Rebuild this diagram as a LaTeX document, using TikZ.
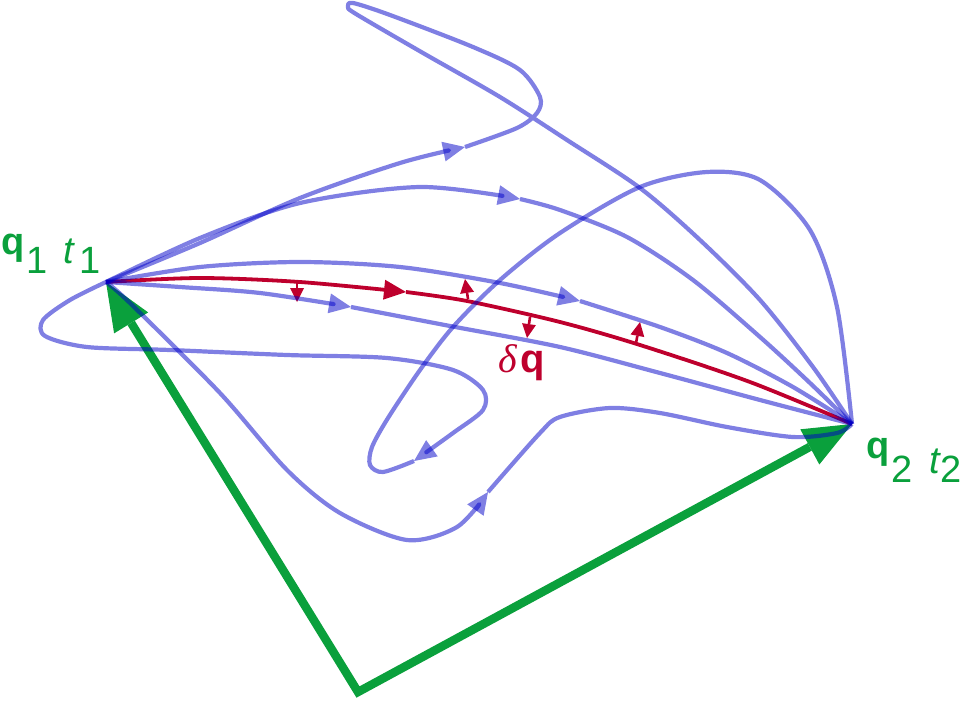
\documentclass[tikz,border=0pt]{standalone}
\usepackage{fontspec}
\setmainfont{Liberation Sans}
\newfontfamily\lserif{Liberation Serif}
\usetikzlibrary{arrows.meta}
\definecolor{pathblue}{RGB}{0,0,200}
\definecolor{varred}{RGB}{190,0,45}
\definecolor{endgreen}{RGB}{10,160,60}
\tikzset{
 traj/.style={draw=pathblue, opacity=0.5, line width=4.2pt, line join=round},
 trajarr/.style={traj, -{Triangle[length=22pt,width=20pt,line width=0pt]}},
 realpath/.style={draw=varred, line width=3.8pt, line join=round},
 realarr/.style={realpath, -{Triangle[length=22pt,width=20pt,line width=0pt]}},
 vararr/.style={draw=varred, line width=2.6pt, -{Triangle[length=14pt,width=14pt,line width=0pt]}},
 posvec/.style={draw=endgreen, line width=8.5pt, {Triangle[length=48pt,width=40pt,line width=0pt]}-{Triangle[length=48pt,width=40pt,line width=0pt]}},
 lbl/.style={inner sep=0pt, anchor=base west, text=endgreen, font=\fontsize{38}{42}\selectfont},
 rlbl/.style={inner sep=0pt, anchor=base west, text=varred, font=\fontsize{40}{44}\selectfont},
}
\begin{document}
\begin{tikzpicture}[x=1pt,y=-1pt]
\useasboundingbox (0,0) rectangle (960,701);
\coordinate (A) at (106,282);
\coordinate (B) at (852,424);
\coordinate (C) at (358,692);
% arrow tips along paths
\coordinate (t1) at (465,147);
\coordinate (t2) at (520,199);
\coordinate (t3) at (580,301);
\coordinate (tr) at (406,292);
\coordinate (t4) at (351,307);
\coordinate (t5) at (414,461);
\coordinate (t6) at (488,492);
% variation arrows
\coordinate (v1s) at (297,283); \coordinate (v1e) at (297,302);
\coordinate (v2s) at (468,299); \coordinate (v2e) at (465,279);
\coordinate (v3s) at (530,317); \coordinate (v3e) at (527,338);
\coordinate (v4s) at (636,343); \coordinate (v4e) at (640,322);

% position vectors
\draw[posvec] (A) -- (C) -- (B);

% actual path
\draw[realarr] plot[smooth] coordinates {(A) (200,278) (300,282) (tr)};
\draw[realpath] plot[smooth] coordinates {(tr) (467,301) (560,322) (640,345) (750,382) (B)};
\draw[vararr] (v1s) -- (v1e);
\draw[vararr] (v2s) -- (v2e);
\draw[vararr] (v3s) -- (v3e);
\draw[vararr] (v4s) -- (v4e);

% trial paths
\draw[trajarr] plot[smooth] coordinates {(A) (200,243) (300,198) (400,163) (t1)};
\draw[traj] plot[smooth] coordinates {(t1) (517,128) (537,113) (540,97) (520,70) (473,47) (390,15) (353,3) (348,7) (356,14) (423,53) (500,97) (567,140) (640,188) (700,240) (760,300) (813,367) (B)};

\draw[trajarr] plot[smooth] coordinates {(A) (200,238) (300,203) (420,187) (t2)};
\draw[traj] plot[smooth] coordinates {(t2) (560,210) (627,237) (693,280) (760,337) (810,383) (B)};

\draw[trajarr] plot[smooth] coordinates {(A) (200,267) (300,262) (400,267) (500,283) (t3)};
\draw[traj] plot[smooth] coordinates {(t3) (660,327) (727,353) (793,387) (B)};

\draw[trajarr] plot[smooth] coordinates {(A) (180,287) (260,293) (t4)};
\draw[traj] plot[smooth] coordinates {(t4) (450,326) (560,347) (660,373) (760,400) (B)};

\draw[trajarr] plot[smooth] coordinates {(A) (70,300) (43,320) (45,336) (87,347) (170,350) (287,355) (387,358) (453,370) (483,390) (483,410) (453,433) (t5)};
\draw[traj] plot[smooth] coordinates {(t5) (383,472) (370,465) (372,447) (388,418) (420,370) (453,327) (500,280) (560,233) (640,187) (707,172) (760,180) (810,230) (837,307) (B)};

\draw[trajarr] plot[smooth] coordinates {(A) (130,303) (220,393) (287,470) (340,513) (407,540) (457,527) (t6)};
\draw[traj] plot[smooth] coordinates {(t6) (540,433) (560,417) (610,408) (660,413) (727,427) (793,437) (837,433) (B)};

% labels
\node[lbl] (q1) at (1,254) {\bfseries q};
\node[lbl] (q1s) at (26,273) {1};
\node[lbl] (t1l) at (63,263) {\itshape t};
\node[lbl] (t1s) at (79,273) {1};
\node[lbl] (q2) at (866,458) {\bfseries q};
\node[lbl] (q2s) at (891,482) {2};
\node[lbl] (t2l) at (929,473) {\itshape t};
\node[lbl] (t2s) at (940,482) {2};
\node[rlbl] (dl) at (498,372) {\lserif\itshape δ};
\node[rlbl] (dq) at (520,372) {\bfseries q};
\end{tikzpicture}
\end{document}
